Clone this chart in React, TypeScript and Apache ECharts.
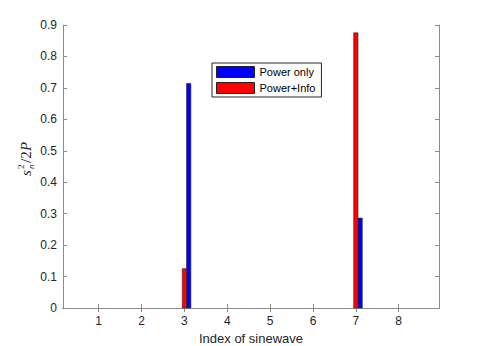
import React, { useEffect, useRef } from "react";
import * as echarts from "echarts";

const indices = [1, 2, 3, 4, 5, 6, 7, 8];
const powerOnly = [0, 0, 0.714, 0, 0, 0, 0.286, 0];
const powerInfo = [0, 0, 0.125, 0, 0, 0, 0.875, 0];
const seriesNames = ["Power only", "Power+Info"];
const xTitle = "Index of sinewave";

export default function App() {
  const ref = useRef<HTMLDivElement>(null);
  useEffect(() => {
    document.body.style.margin = "0";
    const chart = echarts.init(ref.current!, null, { renderer: "svg" });
    const axisColor = "#262626";
    const boxColor = "#8c8c8c";
    const font = "Liberation Sans";
    const mkBar = (name: string, values: number[], color: string, offset: number) => ({
      type: "custom",
      name,
      xAxisIndex: 0,
      yAxisIndex: 0,
      data: indices.map((x, i) => [x, values[i]]),
      itemStyle: { color, borderColor: "#222", borderWidth: 0.6 },
      encode: { x: 0, y: 1 },
      renderItem: (params: any, api: any) => {
        const x = api.value(0);
        const y = api.value(1);
        if (!y) return { type: "group", children: [] };
        const a = api.coord([x + offset - 0.05, y]);
        const b = api.coord([x + offset + 0.05, 0]);
        return {
          type: "rect",
          shape: { x: a[0], y: a[1], width: b[0] - a[0], height: b[1] - a[1] },
          style: { fill: color, stroke: "#222", lineWidth: 0.6 },
        };
      },
    });
    const xBase = {
      type: "value",
      min: 0.167,
      max: 8.94,
      splitLine: { show: false },
    };
    const yBase = {
      type: "value",
      min: 0,
      max: 0.9,
      interval: 0.1,
      splitLine: { show: false },
      axisLine: { show: true, lineStyle: { color: boxColor, width: 1 } },
      axisTick: { show: true, inside: true, length: 4, lineStyle: { color: boxColor } },
    };
    const mathStyle = (text: string, size: number, italic: boolean) => ({
      text,
      font: (italic ? "italic " : "") + size + "px 'Liberation Serif'",
      fill: axisColor,
      verticalAlign: "middle",
      align: "left",
    });
    chart.setOption({
      animation: false,
      backgroundColor: "#ffffff",
      grid: { left: 63, right: 46, top: 25, bottom: 38, outerBoundsMode: "none", containLabel: false },
      legend: {
        orient: "vertical",
        left: 212,
        top: 63,
        padding: [3, 6, 3, 4],
        itemWidth: 38,
        itemHeight: 11,
        itemGap: 4,
        itemTextGap: 3,
        borderColor: "#262626",
        borderWidth: 1,
        backgroundColor: "#ffffff",
        textStyle: { fontFamily: font, fontSize: 11, color: "#000" },
        data: [
          { name: seriesNames[0], icon: "rect", itemStyle: { color: "#0000ff", borderColor: "#222", borderWidth: 1 } },
          { name: seriesNames[1], icon: "rect", itemStyle: { color: "#ff0000", borderColor: "#222", borderWidth: 1 } },
        ],
      },
      xAxis: [
        {
          ...xBase,
          position: "bottom",
          name: xTitle,
          nameLocation: "middle",
          nameGap: 20,
          nameTextStyle: { fontFamily: font, fontSize: 13, color: axisColor },
          axisLine: { show: true, lineStyle: { color: axisColor, width: 1 } },
          axisTick: { show: true, inside: true, length: 4, customValues: indices, lineStyle: { color: boxColor } },
          axisLabel: { show: true, customValues: indices, margin: 7, fontFamily: font, fontSize: 12, color: axisColor },
        },
        {
          ...xBase,
          position: "top",
          axisLine: { show: true, lineStyle: { color: boxColor, width: 1 } },
          axisTick: { show: true, inside: true, length: 4, customValues: indices, lineStyle: { color: boxColor } },
          axisLabel: { show: false },
        },
      ],
      yAxis: [
        {
          ...yBase,
          position: "left",
          axisLabel: { show: true, margin: 6, fontFamily: font, fontSize: 12, color: axisColor },
        },
        {
          ...yBase,
          position: "right",
          axisLabel: { show: false },
        },
      ],
      graphic: [
        {
          type: "group",
          x: 26,
          y: 167,
          rotation: Math.PI / 2,
          children: [
            { type: "text", x: -9, y: 0, style: mathStyle("s", 15, true) },
            { type: "text", x: -2, y: -5, style: mathStyle("2", 9, false) },
            { type: "text", x: -2, y: 5, style: mathStyle("n", 9, true) },
            { type: "text", x: 4, y: 0, style: mathStyle("/2", 15, false) },
            { type: "text", x: 16, y: 0, style: mathStyle("P", 15, true) },
          ],
        },
      ],
      series: [mkBar(seriesNames[0], powerOnly, "#0000ff", 0.1), mkBar(seriesNames[1], powerInfo, "#ff0000", 0)],
    });
    return () => chart.dispose();
  }, []);
  return <div ref={ref} style={{ position: "fixed", left: 0, top: 0, width: 485, height: 346 }} />;
}
